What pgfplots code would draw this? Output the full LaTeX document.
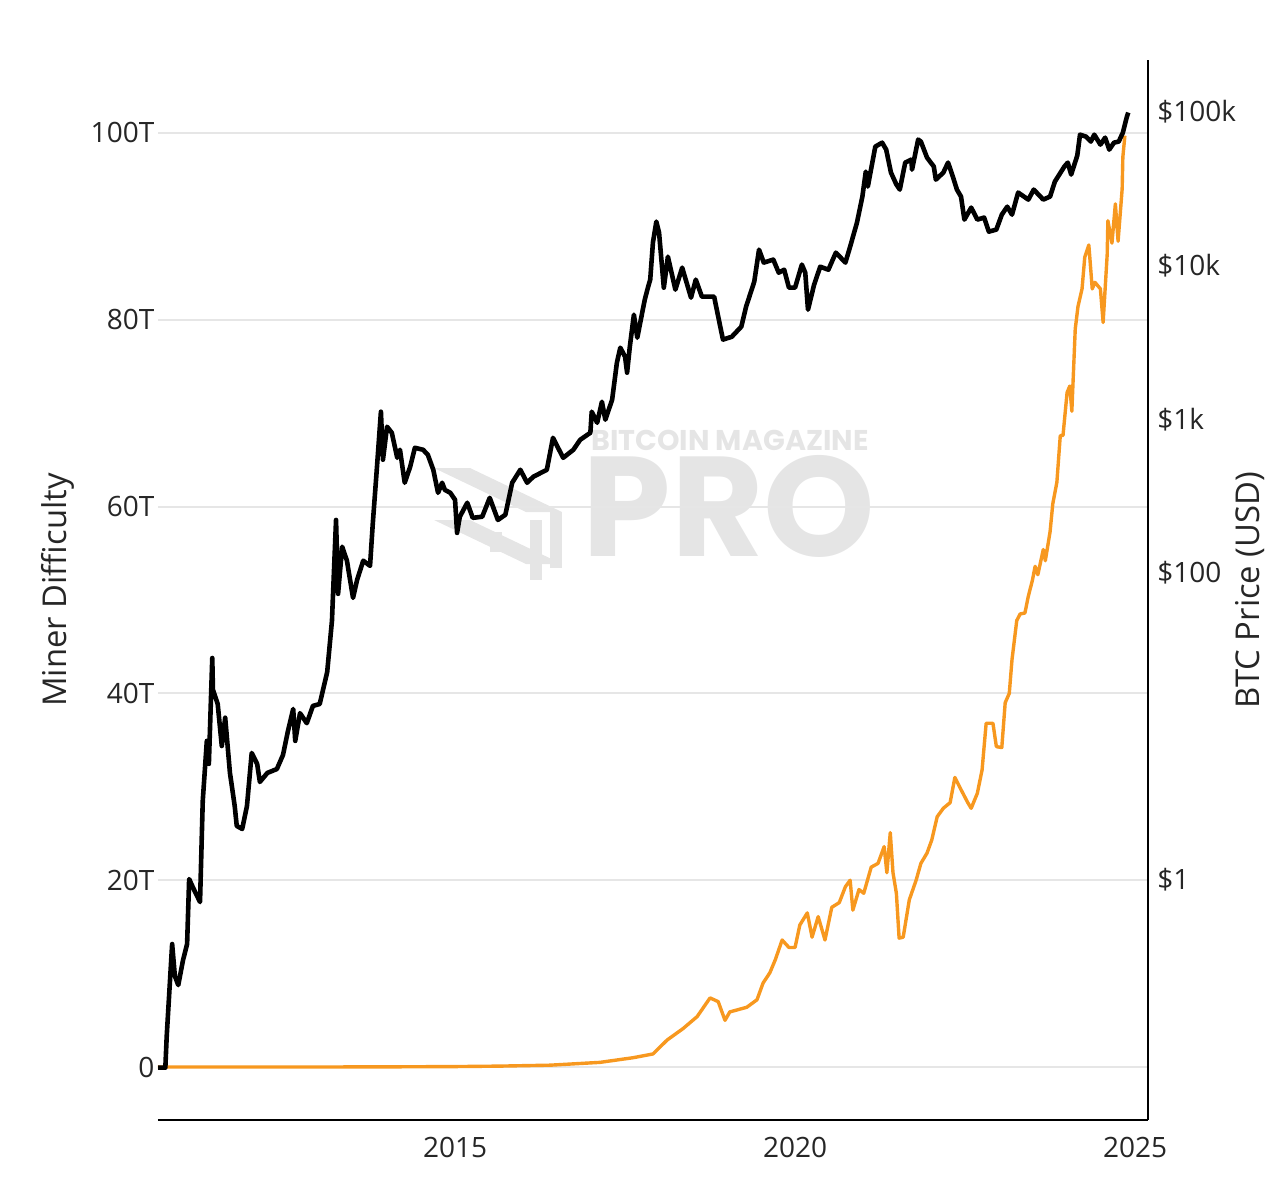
\documentclass[border=0pt]{standalone}
\usepackage{fontspec}
\setmainfont{Open Sans}
\newfontfamily\wmfont{Poppins}
\usepackage{pgfplots}
\pgfplotsset{compat=1.18}
\definecolor{btcorange}{HTML}{F7981F}
\definecolor{gridgray}{HTML}{E6E6E6}
\definecolor{wm}{HTML}{E5E5E5}

\pgfplotstableread{
year price
2010.63 0.06
2010.74 0.06
2010.76 0.096
2010.84 0.383
2010.88 0.237
2010.93 0.207
2011.00 0.301
2011.06 0.383
2011.09 1.015
2011.15 0.887
2011.25 0.719
2011.29 3.27
2011.35 8.05
2011.38 5.70
2011.43 27.9
2011.44 17.3
2011.51 14.0
2011.57 7.46
2011.62 11.4
2011.69 4.98
2011.76 3.03
2011.79 2.25
2011.87 2.15
2011.94 3.03
2012.01 6.72
2012.09 5.70
2012.13 4.35
2012.24 4.98
2012.38 5.28
2012.47 6.52
2012.54 9.21
2012.62 13.0
2012.65 8.05
2012.72 12.2
2012.82 10.5
2012.91 13.6
2013.01 14.0
2013.12 22.6
2013.19 48.7
2013.25 221
2013.28 73.0
2013.34 148
2013.41 120
2013.50 68.7
2013.56 90.0
2013.65 120
2013.75 111
2013.79 208
2013.85 476
2013.91 1120
2013.94 545
2014.00 894
2014.07 817
2014.15 561
2014.19 633
2014.26 386
2014.34 490
2014.41 652
2014.53 633
2014.60 587
2014.68 469
2014.75 332
2014.81 386
2014.85 347
2014.93 332
2015.00 299
2015.03 182
2015.07 232
2015.18 286
2015.26 228
2015.40 232
2015.51 308
2015.63 221
2015.74 239
2015.84 386
2015.96 469
2016.06 386
2016.15 422
2016.35 469
2016.44 757
2016.59 561
2016.74 633
2016.84 735
2016.99 817
2017.01 1120
2017.09 949
2017.16 1300
2017.21 993
2017.31 1340
2017.38 2335
2017.43 2924
2017.50 2555
2017.53 2010
2017.57 2966
2017.63 4795
2017.68 3396
2017.79 6010
2017.84 7300
2017.87 8110
2017.91 14130
2017.96 19360
2018.00 16410
2018.07 7190
2018.13 11450
2018.24 6980
2018.34 9710
2018.47 6190
2018.54 8110
2018.63 6280
2018.81 6280
2018.90 4010
2018.94 3300
2019.07 3445
2019.21 4010
2019.28 5410
2019.40 7870
2019.47 12710
2019.54 10470
2019.68 10950
2019.76 9000
2019.84 9410
2019.91 7190
2020.00 7190
2020.10 10160
2020.15 9000
2020.19 5165
2020.28 7520
2020.37 9850
2020.49 9410
2020.60 12160
2020.74 10470
2020.81 13300
2020.91 19050
2020.99 28180
2021.04 40980
2021.07 32730
2021.18 59570
2021.28 63240
2021.34 56960
2021.41 40370
2021.49 33730
2021.54 31280
2021.62 46900
2021.71 49080
2021.72 42200
2021.81 66220
2021.85 64270
2021.94 50580
2022.04 44190
2022.07 36310
2022.18 40370
2022.25 46900
2022.32 38020
2022.38 31280
2022.44 28180
2022.49 19950
2022.59 23880
2022.68 19950
2022.78 20560
2022.85 16650
2022.96 17180
2023.04 21480
2023.12 24210
2023.19 21480
2023.28 29920
2023.43 26920
2023.51 31280
2023.65 26920
2023.75 28180
2023.82 35240
2023.96 44190
2024.01 46900
2024.06 39170
2024.15 52120
2024.19 71290
2024.28 69180
2024.35 64270
2024.40 71290
2024.49 61380
2024.56 68200
2024.62 56960
2024.69 63240
2024.76 64270
2024.82 73470
2024.88 93500
2024.90 99300
}\pricedata

\pgfplotstableread{
year diff
2010.63 0
2012.00 0.002
2013.00 0.005
2014.00 0.02
2015.00 0.05
2015.66 0.1
2016.40 0.2
2017.13 0.5
2017.62 1.0
2017.91 1.4
2018.12 2.9
2018.35 4.1
2018.56 5.4
2018.75 7.4
2018.87 7.0
2018.97 5.0
2019.04 5.9
2019.29 6.4
2019.44 7.2
2019.53 9.0
2019.63 10.1
2019.71 11.5
2019.81 13.6
2019.91 12.8
2020.00 12.8
2020.07 15.2
2020.18 16.5
2020.25 13.9
2020.34 16.1
2020.44 13.6
2020.54 17.1
2020.65 17.6
2020.74 19.3
2020.81 20.0
2020.85 16.8
2020.94 19.0
2021.01 18.6
2021.12 21.4
2021.22 21.8
2021.31 23.6
2021.35 20.8
2021.40 25.1
2021.44 20.8
2021.49 18.6
2021.53 13.8
2021.59 13.9
2021.68 17.9
2021.78 20.0
2021.85 21.8
2021.94 22.9
2022.01 24.3
2022.09 26.8
2022.18 27.7
2022.28 28.3
2022.35 31.0
2022.44 29.7
2022.54 28.3
2022.59 27.7
2022.68 29.3
2022.75 31.8
2022.81 36.8
2022.91 36.8
2022.96 34.3
2023.04 34.2
2023.09 39.0
2023.15 40.0
2023.19 43.6
2023.26 47.8
2023.31 48.5
2023.38 48.6
2023.43 50.4
2023.49 52.1
2023.53 53.6
2023.57 52.7
2023.65 55.4
2023.68 54.2
2023.75 57.3
2023.79 60.3
2023.85 62.6
2023.90 67.6
2023.94 67.6
2024.00 72.2
2024.04 72.9
2024.07 70.2
2024.12 79.0
2024.16 81.4
2024.22 83.3
2024.26 86.7
2024.32 88.0
2024.37 83.3
2024.41 84.0
2024.49 83.3
2024.53 79.7
2024.59 87.0
2024.60 90.6
2024.66 88.2
2024.71 92.4
2024.75 88.4
2024.81 94.0
2024.82 97.4
2024.85 99.7
}\diffdata

\begin{document}
\begin{tikzpicture}
\useasboundingbox (-39.5pt,-20.5pt) rectangle (281.5pt,280pt);
% watermark
\node[text=wm, font=\wmfont\bfseries\fontsize{35.5}{36}\selectfont, inner sep=0pt] at (142.7pt,153.5pt) {PRO};
\node[text=wm, font=\wmfont\bfseries\fontsize{7.15}{8}\selectfont, inner sep=0pt] at (143pt,170pt) {BITCOIN MAGAZINE};
\fill[wm] (69pt,163pt) -- (78pt,163pt) -- (101pt,152pt) -- (92pt,152pt) -- cycle;
\fill[wm] (69pt,150pt) -- (78pt,150pt) -- (101pt,139pt) -- (92pt,139pt) -- cycle;
\fill[wm] (93pt,150pt) rectangle (96pt,135pt);
\fill[wm] (98pt,152pt) rectangle (101pt,138pt);
\fill[wm] (83pt,147pt) rectangle (86pt,142pt);

\begin{axis}[
  scale only axis, width=247.5pt, height=265pt,
  xmin=2010.632, xmax=2025.19,
  ymin=-5.67, ymax=107.8,
  axis x line*=bottom, axis y line*=left,
  y axis line style={draw=none},
  x axis line style={line width=0.6pt, black},
  xtick={2015,2020,2025}, xticklabels={2015,2020,2025},
  ytick={0,20,40,60,80,100}, yticklabels={0,20T,40T,60T,80T,100T},
  major tick length=0pt,
  ymajorgrids, grid style={gridgray, line width=0.5pt},
  tick label style={font=\fontsize{7}{8.4}\selectfont, text=black!85},
  xticklabel style={yshift=-0.8pt},
  yticklabel style={xshift=2.6pt},
  clip=false,
]
\addplot[btcorange, line width=0.85pt, line join=round] table[x=year, y=diff] {\diffdata};
\end{axis}

\begin{axis}[
  scale only axis, width=247.5pt, height=265pt,
  xmin=2010.632, xmax=2025.19,
  ymode=log, ymin=0.02738, ymax=218300,
  axis y line*=right, axis x line=none,
  y axis line style={line width=0.6pt, black},
  ytick={1,100,1000,10000,100000},
  yticklabels={\$1,\$100,\$1k,\$10k,\$100k},
  yminorticks=false,
  major tick length=0pt,
  tick label style={font=\fontsize{7}{8.4}\selectfont, text=black!85},
  yticklabel style={xshift=-1.2pt},
]
\addplot[black, line width=1.15pt, line join=round] table[x=year, y=price] {\pricedata};
\end{axis}

\node[rotate=90, font=\fontsize{8.2}{9.8}\selectfont, text=black!85] at (-25pt,132.5pt) {Miner Difficulty};
\node[rotate=90, font=\fontsize{8.2}{9.8}\selectfont, text=black!85] at (273pt,132.5pt) {BTC Price (USD)};
\end{tikzpicture}
\end{document}
